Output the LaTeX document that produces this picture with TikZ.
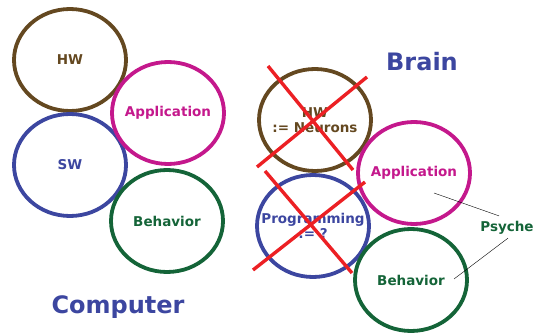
\documentclass[tikz,border=0pt]{standalone}
\usepackage{fontspec}
\setmainfont{DejaVu Sans}
\usetikzlibrary{shapes.geometric}
\definecolor{hwbrown}{RGB}{100,72,32}
\definecolor{appmagenta}{RGB}{196,24,140}
\definecolor{swblue}{RGB}{60,70,160}
\definecolor{behgreen}{RGB}{20,100,56}
\definecolor{crossred}{RGB}{236,32,36}
\tikzset{>=latex,
  ringfont/.style={font=\fontsize{13.5}{15}\selectfont\bfseries},
  ring/.style={ellipse,draw=#1,line width=3.8pt,minimum width=112pt,minimum height=102pt,inner sep=0pt},
  ringtext/.style={text=#1,align=center,inner sep=0pt,ringfont},
  title/.style={text=swblue,font=\fontsize{24}{26}\selectfont\bfseries},
  cross/.style={crossred,line width=3.4pt}}

\begin{document}
\begin{tikzpicture}[x=1pt,y=-1pt]
\useasboundingbox (0,0) rectangle (533,334);
% computer
\node[ring=hwbrown] (hwc) at (70,60) {};
\node[ring=swblue] (swc) at (70,165) {};
\node[ring=appmagenta] (appc) at (168,113) {};
\node[ring=behgreen] (behc) at (167,221) {};
\node[ringtext=hwbrown] (hwctext) at (hwc) {HW};
\node[ringtext=swblue] (swctext) at (swc) {SW};
\node[ringtext=appmagenta] (appctext) at (appc) {Application};
\node[ringtext=behgreen] (behctext) at (behc) {Behavior};
\node[title] (computer) at (118,307) {Computer};
% brain
\node[ring=hwbrown] (hwb) at (315,120) {};
\node[ring=swblue] (progb) at (313,226) {};
\node[ring=appmagenta] (appb) at (414,173) {};
\node[ring=behgreen] (behb) at (411,280) {};
\node[ringtext=hwbrown] (hwbtext) at (hwb) {HW\\:= Neurons};
\node[ringtext=swblue] (progbtext) at (progb) {Programming\\:= ?};
\node[ringtext=appmagenta] (appbtext) at (appb) {Application};
\node[ringtext=behgreen] (behbtext) at (behb) {Behavior};
\node[title] (brain) at (422,62) {Brain};
\node[text=behgreen,ringfont] (psyche) at (507,228) {Psyche};
\draw[cross] (268,66) -- (353,170);
\draw[cross] (367,77) -- (257,167);
\draw[cross] (265,171) -- (352,273);
\draw[cross] (365,182) -- (253,270);
\coordinate (ptapp) at (434,193);
\coordinate (ptbeh) at (454,279);
\draw[thin] (ptapp) -- ([xshift=-8pt,yshift=2pt]psyche.north);
\draw[thin] ([xshift=1pt]psyche.south) -- (ptbeh);
\end{tikzpicture}
\end{document}
